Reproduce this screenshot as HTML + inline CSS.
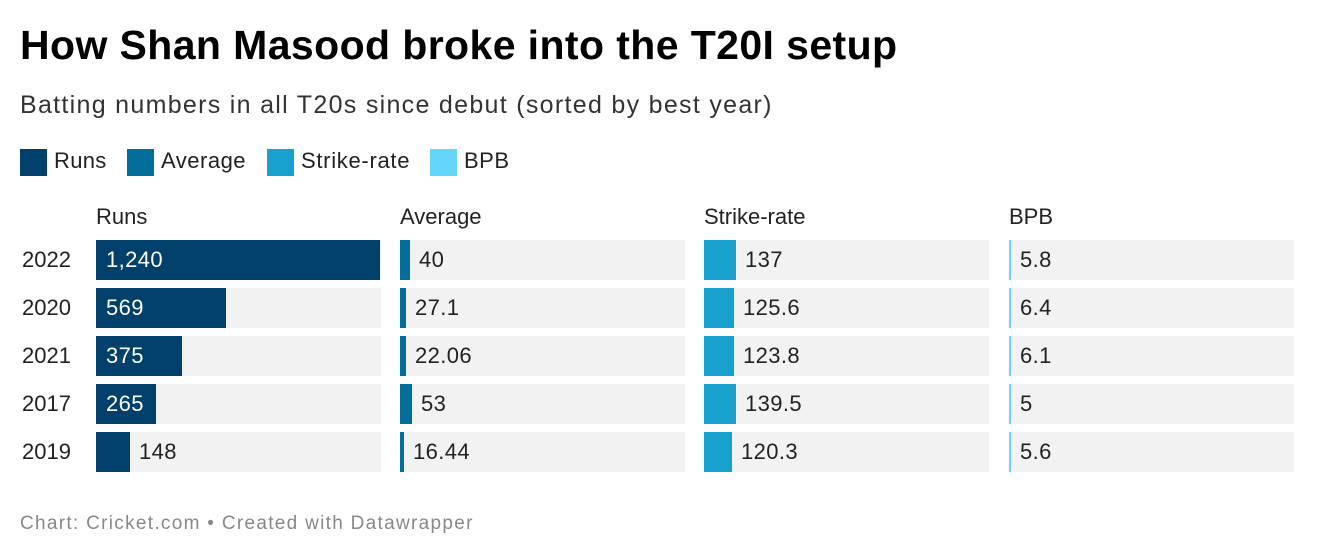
<!DOCTYPE html>
<html><head><meta charset="utf-8"><style>
body{margin:0;width:1324px;height:560px;background:#fff;font-family:"Liberation Sans",Arial,sans-serif;color:#222;position:relative;overflow:hidden}
.a{position:absolute;white-space:nowrap}
.bg{position:absolute;height:40px;background:#f2f2f2}
.b{position:absolute;height:40px}
.t{position:absolute;font-size:22px;line-height:40px}
.sq{position:absolute;width:27px;height:27px;top:149px}
</style></head><body>
<div class="a" style="left:20px;top:22px;font-size:41px;letter-spacing:0.4px;font-weight:bold;color:#000">How Shan Masood broke into the T20I setup</div>
<div class="a" style="left:20px;top:91px;font-size:25px;letter-spacing:1.3px;color:#333">Batting numbers in all T20s since debut (sorted by best year)</div>
<div class="sq" style="left:20px;background:#01406a"></div><div class="a" style="left:54px;top:148px;font-size:22px;letter-spacing:0.3px">Runs</div>
<div class="sq" style="left:127px;background:#046e9b"></div><div class="a" style="left:161px;top:148px;font-size:22px;letter-spacing:0.5px">Average</div>
<div class="sq" style="left:267px;background:#18a1cd"></div><div class="a" style="left:301px;top:148px;font-size:22px;letter-spacing:0.7px">Strike-rate</div>
<div class="sq" style="left:430px;background:#63d6fa"></div><div class="a" style="left:464px;top:148px;font-size:22px;letter-spacing:0.5px">BPB</div>
<div class="a" style="left:96px;top:204px;font-size:22px">Runs</div>
<div class="a" style="left:400px;top:204px;font-size:22px">Average</div>
<div class="a" style="left:704px;top:204px;font-size:22px">Strike-rate</div>
<div class="a" style="left:1009px;top:204px;font-size:22px">BPB</div>
<div id="rows"></div>
<div class="a" style="left:20px;top:513px;font-size:19px;letter-spacing:1.3px;color:#888">Chart: Cricket.com • Created with Datawrapper</div>
<script>
var d=[["2022",284,"1,240",10,"40",32,"137",2,"5.8"],["2020",130,"569",6,"27.1",30,"125.6",2,"6.4"],["2021",86,"375",6,"22.06",30,"123.8",2,"6.1"],["2017",60,"265",12,"53",32,"139.5",2,"5"],["2019",34,"148",4,"16.44",28,"120.3",2,"5.6"]];
var h="";d.forEach(function(r,i){var y=240+i*48;
h+='<div class="t" style="left:22px;top:'+y+'px">'+r[0]+'</div>';
var cols=[[96,"#01406a"],[400,"#046e9b"],[704,"#18a1cd"],[1009,"#63d6fa"]];
for(var c=0;c<4;c++){var x=cols[c][0],w=r[1+c*2],v=r[2+c*2];
h+='<div class="bg" style="left:'+x+'px;top:'+y+'px;width:285px"></div>';
h+='<div class="b" style="left:'+x+'px;top:'+y+'px;width:'+w+'px;background:'+cols[c][1]+'"></div>';
if(c==0&&w>50)h+='<div class="t" style="left:'+(x+10)+'px;top:'+y+'px;color:#fff;letter-spacing:0.4px">'+v+'</div>';
else h+='<div class="t" style="left:'+(x+w+9)+'px;top:'+y+'px;letter-spacing:0.4px">'+v+'</div>';}
});document.getElementById("rows").innerHTML=h;
</script>
</body></html>
